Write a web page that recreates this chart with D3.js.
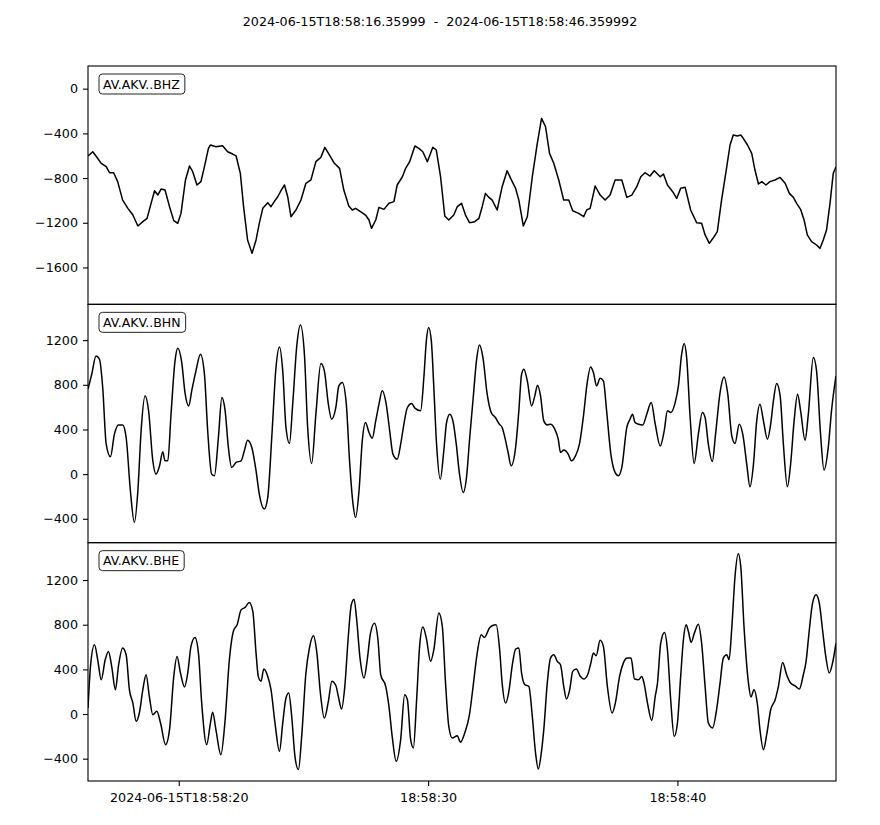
<!DOCTYPE html>
<html>
<head>
<meta charset="utf-8">
<script src="https://cdn.jsdelivr.net/npm/d3@7"></script>
<style>
  body { margin: 0; background: #fff; }
  text { font-family: "DejaVu Sans", sans-serif; fill: #000; }
</style>
</head>
<body>
<svg id="chart" width="880" height="825"></svg>
<script>
// trace start (UTC) and header
const startTime = Date.UTC(2024, 5, 15, 18, 58, 16, 360)
const titleText = "2024-06-15T18:58:16.35999  -  2024-06-15T18:58:46.359992"
const channels = ["AV.AKV..BHZ", "AV.AKV..BHN", "AV.AKV..BHE"]
const xTickSeconds = [20, 30, 40]   // 18:58:xx
const yTicks = [[0, -400, -800, -1200, -1600], [1200, 800, 400, 0, -400], [1200, 800, 400, 0, -400]]
const yDomains = [[-1930, 203], [-614, 1521], [-600, 1535]]

// [seconds after start, counts]
const bhz = [[0,-602],[0.19,-564],[0.32,-602],[0.53,-668],[0.73,-698],[0.86,-752],[1.03,-752],[1.19,-832],[1.39,-997],[1.60,-1071],[1.80,-1131],[2.00,-1229],[2.20,-1190],[2.37,-1160],[2.53,-1026],[2.67,-913],[2.80,-952],[2.93,-898],[3.09,-907],[3.27,-1056],[3.44,-1181],[3.60,-1205],[3.73,-1116],[3.91,-817],[4.07,-692],[4.20,-743],[4.37,-862],[4.53,-832],[4.67,-698],[4.83,-534],[4.91,-504],[5.13,-519],[5.40,-510],[5.60,-564],[5.80,-585],[5.94,-602],[6.11,-758],[6.24,-1056],[6.40,-1354],[6.58,-1474],[6.74,-1354],[6.87,-1205],[7.01,-1071],[7.21,-1020],[7.34,-1056],[7.47,-1011],[7.61,-967],[7.74,-913],[7.88,-862],[8.01,-967],[8.14,-1146],[8.34,-1086],[8.54,-997],[8.74,-847],[8.94,-817],[9.14,-653],[9.34,-615],[9.50,-525],[9.68,-593],[9.88,-668],[10.09,-713],[10.26,-907],[10.46,-1050],[10.60,-1086],[10.73,-1071],[10.93,-1101],[11.13,-1131],[11.27,-1175],[11.37,-1250],[11.54,-1175],[11.67,-1062],[11.87,-1080],[12.07,-1026],[12.27,-1011],[12.40,-862],[12.61,-788],[12.74,-713],[12.90,-653],[13.11,-513],[13.27,-534],[13.43,-564],[13.61,-653],[13.83,-525],[13.97,-549],[14.14,-788],[14.31,-1140],[14.47,-1175],[14.67,-1131],[14.81,-1056],[14.98,-1026],[15.14,-1131],[15.30,-1199],[15.51,-1190],[15.68,-1160],[15.81,-1056],[15.94,-937],[16.08,-973],[16.21,-997],[16.41,-1086],[16.61,-877],[16.81,-734],[16.95,-803],[17.15,-892],[17.28,-997],[17.46,-1229],[17.62,-1146],[17.82,-788],[18.02,-490],[18.19,-266],[18.35,-340],[18.51,-579],[18.68,-668],[18.88,-817],[19.08,-997],[19.28,-997],[19.44,-1092],[19.68,-1116],[19.88,-1146],[20.00,-1086],[20.14,-1071],[20.34,-871],[20.54,-952],[20.74,-997],[20.94,-952],[21.14,-817],[21.41,-817],[21.61,-973],[21.81,-952],[22.01,-877],[22.17,-788],[22.34,-752],[22.54,-782],[22.71,-734],[22.95,-788],[23.08,-764],[23.24,-862],[23.45,-922],[23.61,-982],[23.77,-892],[23.95,-883],[24.17,-1086],[24.41,-1199],[24.61,-1205],[24.75,-1309],[24.92,-1384],[25.11,-1325],[25.24,-1280],[25.41,-997],[25.62,-698],[25.75,-504],[25.88,-414],[26.04,-423],[26.18,-414],[26.28,-444],[26.45,-504],[26.62,-579],[26.75,-728],[26.89,-853],[27.02,-832],[27.19,-862],[27.35,-832],[27.55,-817],[27.76,-794],[27.96,-847],[28.13,-937],[28.29,-973],[28.42,-1026],[28.58,-1080],[28.72,-1175],[28.85,-1309],[29.02,-1369],[29.22,-1399],[29.36,-1429],[29.49,-1354],[29.62,-1265],[29.76,-1026],[29.89,-758],[30.0,-698]]

const bhn = [[0,761],[0.15,895],[0.32,1059],[0.46,1029],[0.59,776],[0.73,268],[0.90,155],[1.06,358],[1.22,441],[1.39,441],[1.53,328],[1.70,-149],[1.86,-433],[2.00,-149],[2.13,388],[2.29,701],[2.43,567],[2.60,119],[2.73,0],[2.87,74],[3.00,200],[3.09,119],[3.20,119],[3.33,537],[3.49,1014],[3.60,1128],[3.76,999],[3.89,731],[4.04,611],[4.16,746],[4.33,925],[4.51,1074],[4.67,895],[4.80,388],[4.96,0],[5.07,-15],[5.23,328],[5.37,686],[5.50,567],[5.63,239],[5.76,60],[5.94,105],[6.14,119],[6.27,209],[6.40,304],[6.57,239],[6.74,30],[6.87,-179],[7.07,-313],[7.21,-209],[7.37,328],[7.54,955],[7.68,1139],[7.81,925],[7.94,418],[8.08,275],[8.21,627],[8.38,1164],[8.52,1336],[8.68,1074],[8.81,418],[8.97,96],[9.14,537],[9.34,991],[9.48,925],[9.64,627],[9.77,492],[9.94,597],[10.06,790],[10.20,821],[10.36,627],[10.49,119],[10.63,-269],[10.73,-388],[10.87,-149],[11.00,298],[11.13,462],[11.27,373],[11.40,322],[11.54,477],[11.67,627],[11.80,746],[11.96,627],[12.10,388],[12.23,179],[12.40,134],[12.54,268],[12.67,447],[12.81,597],[12.98,633],[13.11,591],[13.34,567],[13.47,865],[13.57,1193],[13.66,1313],[13.77,1193],[13.87,776],[13.98,268],[14.13,-45],[14.27,209],[14.38,462],[14.51,537],[14.65,462],[14.77,268],[14.90,0],[15.05,-164],[15.18,-30],[15.31,328],[15.45,686],[15.58,1014],[15.70,1157],[15.84,1044],[16.01,716],[16.17,552],[16.34,507],[16.50,447],[16.61,418],[16.75,298],[16.85,194],[16.97,74],[17.15,239],[17.28,567],[17.39,895],[17.48,940],[17.62,835],[17.79,611],[17.92,701],[18.03,797],[18.15,701],[18.28,477],[18.42,441],[18.55,447],[18.72,403],[18.86,313],[18.95,194],[19.08,215],[19.26,179],[19.39,119],[19.55,164],[19.71,268],[19.88,537],[20.01,800],[20.16,960],[20.27,910],[20.40,790],[20.54,859],[20.67,835],[20.80,567],[20.97,179],[21.14,15],[21.27,-15],[21.41,60],[21.61,418],[21.74,492],[21.84,537],[21.94,462],[22.08,447],[22.25,441],[22.41,537],[22.59,641],[22.75,447],[22.95,253],[23.11,388],[23.24,567],[23.37,552],[23.55,641],[23.68,790],[23.81,1074],[23.91,1170],[24.01,1044],[24.15,507],[24.31,96],[24.48,358],[24.64,552],[24.75,507],[24.88,268],[25.04,113],[25.17,358],[25.35,731],[25.51,871],[25.66,716],[25.82,343],[25.95,275],[26.12,447],[26.26,358],[26.42,90],[26.55,-113],[26.69,90],[26.82,477],[26.95,627],[27.09,477],[27.25,313],[27.38,447],[27.49,656],[27.62,812],[27.76,701],[27.89,268],[28.05,-113],[28.18,90],[28.32,477],[28.46,716],[28.58,567],[28.76,304],[28.89,537],[29.09,1044],[29.22,925],[29.38,358],[29.52,36],[29.69,239],[29.82,567],[30.0,880]]

const bhe = [[0,54],[0.10,427],[0.26,620],[0.39,486],[0.53,307],[0.69,486],[0.82,561],[0.95,427],[1.10,218],[1.22,427],[1.39,591],[1.53,531],[1.66,218],[1.80,98],[1.93,-65],[2.06,9],[2.20,218],[2.33,352],[2.46,158],[2.60,-6],[2.76,24],[2.91,-81],[3.11,-275],[3.27,-140],[3.44,337],[3.57,516],[3.71,367],[3.87,242],[4.00,367],[4.13,606],[4.29,686],[4.43,546],[4.56,98],[4.76,-275],[4.91,-81],[5.00,15],[5.13,-140],[5.33,-364],[5.50,-51],[5.67,486],[5.84,749],[5.98,799],[6.14,933],[6.30,955],[6.47,1000],[6.61,919],[6.74,546],[6.83,337],[6.94,293],[7.05,403],[7.21,337],[7.34,218],[7.50,-81],[7.68,-334],[7.81,-81],[7.94,143],[8.05,188],[8.17,-21],[8.30,-379],[8.44,-498],[8.57,-200],[8.74,367],[8.88,591],[9.04,701],[9.18,546],[9.32,188],[9.48,-36],[9.64,113],[9.78,293],[9.94,255],[10.04,158],[10.17,45],[10.30,248],[10.44,695],[10.56,979],[10.67,1029],[10.77,859],[10.91,501],[11.07,322],[11.20,486],[11.33,725],[11.49,814],[11.63,665],[11.74,352],[11.94,248],[12.07,69],[12.20,-200],[12.36,-424],[12.54,-230],[12.70,173],[12.81,128],[12.94,-230],[13.05,-304],[13.18,128],[13.30,606],[13.43,779],[13.57,680],[13.74,472],[13.87,576],[14.07,904],[14.21,785],[14.34,277],[14.47,-110],[14.61,-215],[14.81,-194],[14.94,-253],[15.11,-170],[15.30,-6],[15.43,218],[15.61,546],[15.77,710],[15.90,686],[16.10,770],[16.21,791],[16.37,799],[16.51,576],[16.61,277],[16.75,98],[16.88,203],[17.01,427],[17.15,582],[17.28,591],[17.39,367],[17.52,263],[17.68,248],[17.82,-21],[17.95,-349],[18.06,-492],[18.18,-349],[18.28,-140],[18.42,277],[18.55,501],[18.68,531],[18.82,472],[18.95,441],[19.08,248],[19.19,134],[19.32,218],[19.44,382],[19.58,403],[19.75,337],[19.88,313],[20.04,352],[20.16,450],[20.27,546],[20.38,522],[20.54,660],[20.67,606],[20.83,248],[21.02,9],[21.15,98],[21.32,337],[21.47,456],[21.63,501],[21.78,501],[21.92,313],[22.08,307],[22.21,337],[22.30,277],[22.44,98],[22.61,-57],[22.75,158],[22.84,277],[22.97,635],[23.12,731],[23.24,576],[23.37,128],[23.51,-200],[23.64,-81],[23.77,337],[23.88,665],[23.99,799],[24.08,740],[24.19,642],[24.32,725],[24.48,805],[24.61,635],[24.75,248],[24.88,-81],[25.05,-125],[25.21,38],[25.35,277],[25.48,501],[25.62,531],[25.71,486],[25.82,770],[25.95,1232],[26.08,1435],[26.18,1322],[26.31,785],[26.49,277],[26.59,152],[26.71,218],[26.85,83],[26.95,-140],[27.09,-319],[27.22,-185],[27.38,38],[27.56,128],[27.69,248],[27.86,462],[28.02,352],[28.18,277],[28.36,253],[28.53,224],[28.69,352],[28.80,472],[28.93,755],[29.06,993],[29.20,1068],[29.33,993],[29.46,755],[29.59,516],[29.73,367],[29.86,456],[30.0,635]]

const traces = [bhz, bhn, bhe]

// ---- layout
const margin = { top: 66, left: 88, right: 44, bottom: 44 }
const width = 880 - margin.left - margin.right
const panelH = (825 - margin.top - margin.bottom) / 3

const svg = d3.select("#chart")

svg.append("text")
    .attr("x", 440)
    .attr("y", 26)
    .attr("text-anchor", "middle")
    .style("font-size", "12.7px")
    .style("white-space", "pre")
    .text(titleText)

const x = d3.scaleUtc()
    .domain([new Date(startTime), new Date(startTime + 30000)])
    .range([margin.left, margin.left + width])

const toDate = s => new Date(startTime + s * 1000)

traces.forEach((trace, i) => {
    const top = margin.top + i * panelH
    const y = d3.scaleLinear()
        .domain(yDomains[i])
        .range([top + panelH, top])

    const g = svg.append("g").attr("class", "panel")

    const clipId = "clip" + i
    g.append("clipPath").attr("id", clipId)
        .append("rect")
        .attr("x", margin.left).attr("y", top)
        .attr("width", width).attr("height", panelH)

    // waveform
    const line = d3.line()
        .x(d => x(toDate(d[0])))
        .y(d => y(d[1]))
        .curve(i === 0 ? d3.curveLinear : d3.curveMonotoneX)

    g.append("path")
        .attr("clip-path", `url(#${clipId})`)
        .attr("d", line(trace))
        .attr("fill", "none")
        .attr("stroke", "#000")
        .attr("stroke-width", 1.5)
        .attr("stroke-linejoin", "round")

    // y axis
    const yAxis = d3.axisLeft(y)
        .tickValues(yTicks[i])
        .tickFormat(d3.format("d"))
        .tickSize(5)
        .tickPadding(5)
    const ga = g.append("g")
        .attr("transform", `translate(${margin.left},0)`)
        .call(yAxis)
    ga.select(".domain").remove()
    ga.selectAll("line").attr("stroke", "#000").attr("stroke-width", 1.1)
    ga.selectAll("text").style("font-size", "12.7px").attr("font-family", null)

    // frame
    g.append("rect")
        .attr("x", margin.left).attr("y", top)
        .attr("width", width).attr("height", panelH)
        .attr("fill", "none")
        .attr("stroke", "#000")
        .attr("stroke-width", 1.1)

    // channel label in rounded box
    const lbl = g.append("text")
        .attr("x", margin.left + 15)
        .attr("y", top + 22.7)
        .style("font-size", "12.5px")
        .text(channels[i])
    const tw = lbl.node().getComputedTextLength()
    g.append("rect")
        .attr("x", margin.left + 11)
        .attr("y", top + 8)
        .attr("width", tw + 9)
        .attr("height", 20)
        .attr("rx", 3.5)
        .attr("fill", "none")
        .attr("stroke", "#222")
        .attr("stroke-width", 1)

    if (i === 2) {
        const xAxis = d3.axisBottom(x)
            .tickValues(xTickSeconds.map(s => new Date(Date.UTC(2024, 5, 15, 18, 58, s))))
            .tickFormat((d, k) => k === 0 ? "2024-06-15T" + d3.utcFormat("%H:%M:%S")(d) : d3.utcFormat("%H:%M:%S")(d))
            .tickSize(5)
            .tickPadding(7)
        const gx = g.append("g")
            .attr("transform", `translate(0,${top + panelH})`)
            .call(xAxis)
        gx.select(".domain").remove()
        gx.selectAll("line").attr("stroke", "#000").attr("stroke-width", 1.1)
        gx.selectAll("text").style("font-size", "12.7px").attr("font-family", null)
    }
})
</script>
</body>
</html>
